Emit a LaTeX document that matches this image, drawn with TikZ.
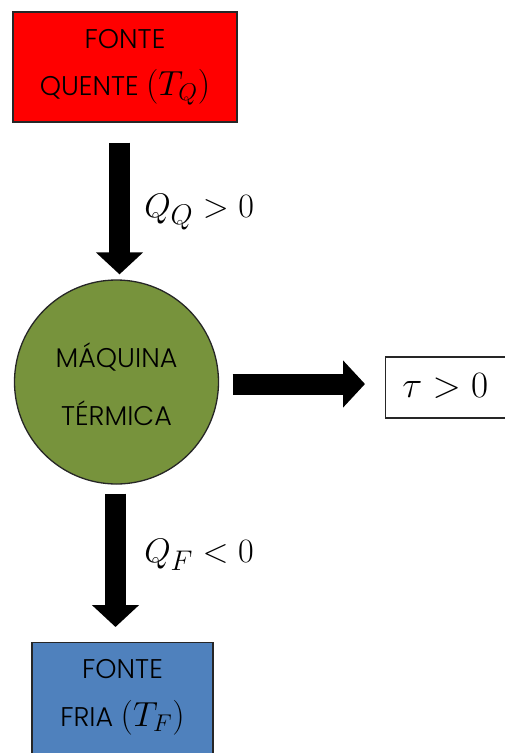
\documentclass[tikz,border=0pt]{standalone}
\usepackage{fontspec}
\setmainfont{Poppins Light}
\usetikzlibrary{arrows.meta}
\definecolor{hotred}{HTML}{FF0000}
\definecolor{engreen}{HTML}{77933C}
\definecolor{coldblue}{HTML}{4F81BD}
\newcommand{\bigmath}[1]{\scalebox{1.4}{$#1$}}
\tikzset{
  boxnode/.style={draw=black!85, line width=1.3pt, minimum width=#1, inner sep=0pt, align=center},
  boxtext/.style={font=\fontsize{27}{47}\selectfont, align=center, inner sep=0pt},
  bigarrow/.style={line width=21pt, draw=black, -{Triangle[width=46pt,length=22pt]}},
  mathlab/.style={font=\fontsize{24.88}{30}\selectfont, inner sep=0pt, scale=1.37}
}
\begin{document}
\begin{tikzpicture}[x=1pt,y=-1pt]
\useasboundingbox (0,0) rectangle (505,753);
\clip (0,0) rectangle (505,753);
\node[boxnode=224pt, minimum height=110pt, fill=hotred] (fq) at (125,67) {};
\node[boxtext] (fqt) at (125,67) {FONTE\\QUENTE \bigmath{(T_Q)}};
\node[draw=black!85, line width=1.3pt, circle, fill=engreen, minimum size=204pt, inner sep=0pt] (m) at (116.5,382) {};
\node[boxtext, font=\fontsize{27}{58}\selectfont] (mt) at (116.5,384) {MÁQUINA\\TÉRMICA};
\node[boxnode=125pt, minimum height=61pt, fill=white, anchor=west] (tau) at (385,387.5) {};
\node[mathlab, scale=1.09, anchor=west] (taut) at (402,386) {$\tau > 0$};
\node[boxnode=181pt, minimum height=120pt, fill=coldblue, anchor=north] (ff) at (122.5,642) {};
\node[boxtext, font=\fontsize{27}{48}\selectfont] (fft) at (122.5,697) {FONTE\\FRIA \bigmath{(T_F)}};
\path (fq.south) ++(-5.5,20) coordinate (a1s);
\path (m.east) ++(13.5,2) coordinate (a2s);
\path (m.south) ++(-1,9) coordinate (a3s);
\draw[bigarrow, shorten >=5pt] (a1s) -- (a1s |- m.north);
\draw[bigarrow, shorten >=20pt] (a2s) -- (a2s -| tau.west);
\draw[bigarrow, shorten >=15pt] (a3s) -- (a3s |- ff.north);
\node[mathlab, anchor=west] (lq) at (144,212) {$Q_Q > 0$};
\node[mathlab, anchor=west] (lf) at (144,555) {$Q_F < 0$};
\end{tikzpicture}
\end{document}
